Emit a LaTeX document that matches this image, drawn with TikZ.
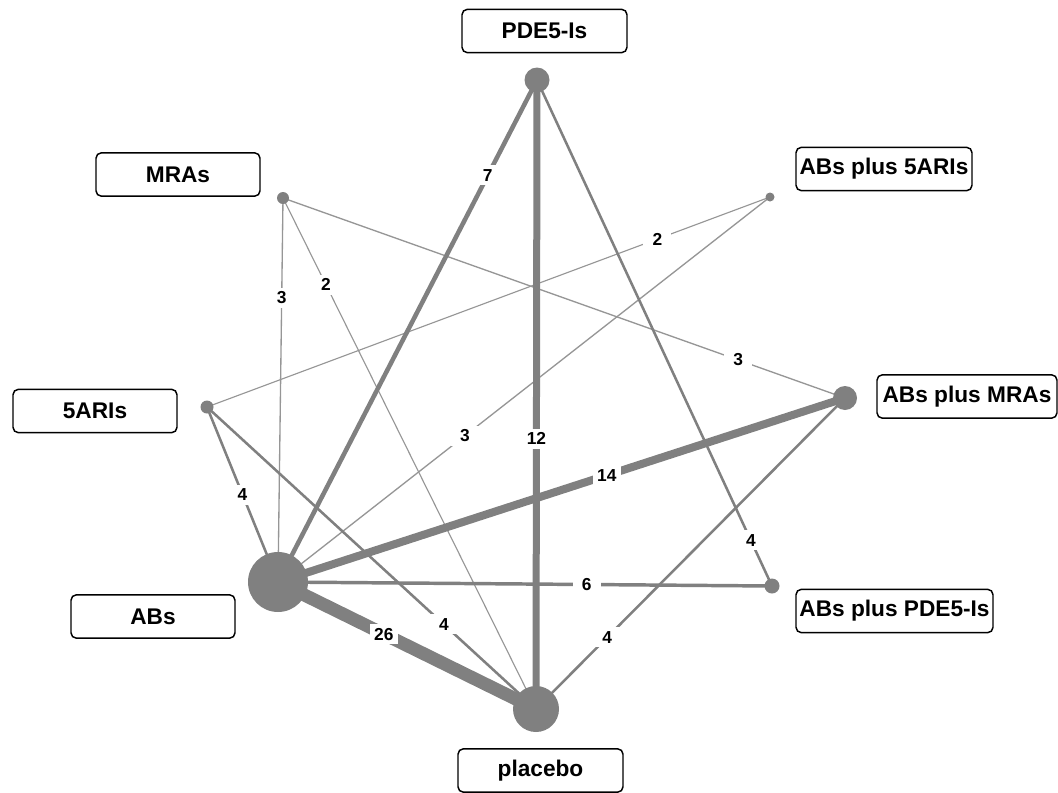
\documentclass[tikz,border=0pt]{standalone}
\usepackage{fontspec}
\setmainfont{Liberation Sans}
\usetikzlibrary{backgrounds}
\definecolor{netgrey}{RGB}{128,128,128}
\definecolor{thingrey}{RGB}{150,150,150}
\tikzset{
  dot/.style={circle, fill=netgrey, draw=none, inner sep=0pt},
  namebox/.style={draw=black, line width=1.1pt, rounded corners=4pt, fill=white,
    minimum height=32.5pt, inner sep=1.5pt, font=\bfseries\fontsize{17}{19}\selectfont},
  lbl/.style={fill=white, inner sep=0pt, minimum width=21pt, minimum height=15pt,
    font=\bfseries\fontsize{13}{15}\selectfont},
  edge/.style={draw=netgrey, line cap=butt},
  wA/.style={edge, line width=9.75pt},
  wB/.style={edge, line width=6pt},
  wC/.style={edge, line width=5.25pt},
  wD/.style={edge, line width=3.4pt},
  wE/.style={edge, line width=2.6pt},
  wF/.style={edge, line width=1.9pt},
  wG/.style={edge, draw=thingrey, line width=1pt},
  wH/.style={edge, draw=thingrey, line width=0.85pt},
}
\begin{document}
\begin{tikzpicture}[x=0.75pt, y=-0.75pt]
\useasboundingbox (0,0) rectangle (1058,793);
% treatment dots
\node[dot, minimum size=18.75pt] (pde) at (537,80) {};
\node[dot, minimum size=9pt] (mra) at (283,198) {};
\node[dot, minimum size=6.75pt] (a5a) at (770,197) {};
\node[dot, minimum size=9.75pt] (fiv) at (207,407) {};
\node[dot, minimum size=18pt] (amr) at (845,398) {};
\node[dot, minimum size=45pt] (abs) at (278,582) {};
\node[dot, minimum size=11.25pt] (ape) at (772,586) {};
\node[dot, minimum size=34.5pt] (pla) at (536,709) {};
% name boxes
\node[namebox, minimum width=123.75pt] (tpde) at (544.5,31) {PDE5-Is};
\node[namebox, minimum width=123pt] (tmra) at (178,174.5) {MRAs};
\node[namebox, minimum width=132pt] (ta5a) at (884,169) {ABs plus 5ARIs};
\node[namebox, minimum width=123pt] (tfiv) at (95,411) {5ARIs};
\node[namebox, minimum width=135pt] (tamr) at (967,396.5) {ABs plus MRAs};
\node[namebox, minimum width=123pt] (tabs) at (153,616.5) {ABs};
\node[namebox, minimum width=147.75pt] (tape) at (894.5,611) {ABs plus PDE5-Is};
\node[namebox, minimum width=123.75pt] (tpla) at (540.5,770.5) {placebo};
% connectors
\begin{pgfonlayer}{background}
\draw[wH] (mra.center) -- (pla.center);
\draw[wH] (a5a.center) -- (fiv.center);
\draw[wG] (mra.center) -- (abs.center);
\draw[wG] (mra.center) -- (amr.center);
\draw[wG] (a5a.center) -- (abs.center);
\draw[wF] (fiv.center) -- (abs.center);
\draw[wF] (fiv.center) -- (pla.center);
\draw[wF] (pla.center) -- (amr.center);
\draw[wF] (pde.center) -- (ape.center);
\draw[wE] (abs.center) -- (ape.center);
\draw[wD] (pde.center) -- (abs.center);
\draw[wC] (pde.center) -- (pla.center);
\draw[wB] (abs.center) -- (amr.center);
\draw[wA] (abs.center) -- (pla.center);
\end{pgfonlayer}
% labels
\path (abs.center) -- (pla.center) node[lbl, pos=0.41] {26};
\path (abs.center) -- (amr.center) node[lbl, pos=0.58] {14};
\path (pde.center) -- (pla.center) node[lbl, pos=0.57] {12};
\path (pde.center) -- (abs.center) node[lbl, pos=0.19] {7};
\path (abs.center) -- (ape.center) node[lbl, pos=0.625] {6};
\path (fiv.center) -- (abs.center) node[lbl, pos=0.5] {4};
\path (fiv.center) -- (pla.center) node[lbl, pos=0.72] {4};
\path (pla.center) -- (amr.center) node[lbl, pos=0.23] {4};
\path (pde.center) -- (ape.center) node[lbl, pos=0.91] {4};
\path (mra.center) -- (abs.center) node[lbl, pos=0.26] {3};
\path (mra.center) -- (amr.center) node[lbl, pos=0.81] {3};
\path (a5a.center) -- (abs.center) node[lbl, pos=0.62] {3};
\path (mra.center) -- (pla.center) node[lbl, pos=0.17] {2};
\path (a5a.center) -- (fiv.center) node[lbl, pos=0.2] {2};
\end{tikzpicture}
\end{document}
